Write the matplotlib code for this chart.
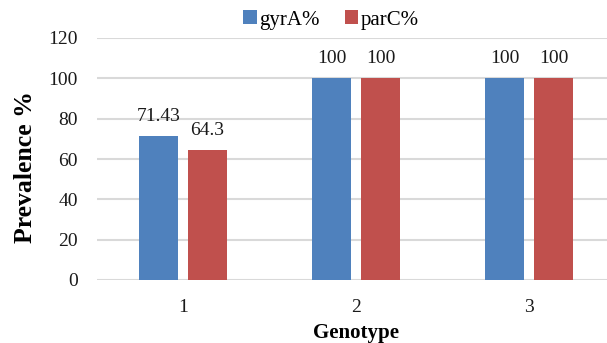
import matplotlib
matplotlib.use("Agg")
import matplotlib.pyplot as plt
import numpy as np

categories = ["1", "2", "3"]
gyrA = [71.43, 100, 100]
parC = [64.3, 100, 100]
gyrA_labels = ["71.43", "100", "100"]
parC_labels = ["64.3", "100", "100"]
yticks = [0, 20, 40, 60, 80, 100, 120]

plt.rcParams['font.family'] = ['Liberation Serif', 'DejaVu Serif']

fig = plt.figure(figsize=(6.07, 3.43), dpi=100)
ax = fig.add_axes([96.5/607, (343-280)/343, (615.5-96.5)/607, (280-38)/343])

x = np.arange(len(categories))
w = 0.225
off = 0.1416
b1 = ax.bar(x - off, gyrA, w, color='#4F81BD', label='gyrA%', zorder=3)
b2 = ax.bar(x + off, parC, w, color='#C0504D', label='parC%', zorder=3)

for bars, labs in ((b1, gyrA_labels), (b2, parC_labels)):
    for r, t in zip(bars, labs):
        ax.annotate(t, (r.get_x() + r.get_width()/2, r.get_height()),
                    xytext=(0, 8), textcoords='offset points',
                    ha='center', va='bottom', fontsize=14, color='#1a1a1a')

ax.set_xlim(-0.5, 2.5)
ax.set_ylim(0, 120)
ax.set_yticks(yticks)
ax.set_xticks(x)
ax.set_xticklabels(categories)
ax.tick_params(axis='both', length=0, labelsize=14, colors='#1a1a1a')
ax.tick_params(axis='y', pad=13.5)
ax.tick_params(axis='x', pad=14)
ax.grid(axis='y', color='#D9D9D9', linewidth=1.5, zorder=0)
for s in ax.spines.values():
    s.set_visible(False)

ax.set_ylabel('Prevalence %', fontsize=18.5, fontweight='bold', va='center')
ax.yaxis.set_label_coords((26 - 96.5) / 519, (280 - 167) / 242)
ax.set_xlabel('Genotype', fontsize=15, fontweight='bold', va='center')
ax.xaxis.set_label_coords((356.5 - 96.5) / 519, (280 - 333) / 242)

leg = fig.legend(loc='center', bbox_to_anchor=(331/607, 1-20/343), ncol=2,
                 frameon=False, fontsize=15, handlelength=0.65, handleheight=0.65,
                 handletextpad=0.12, columnspacing=1.2)

fig.savefig('out.png', dpi=100)
